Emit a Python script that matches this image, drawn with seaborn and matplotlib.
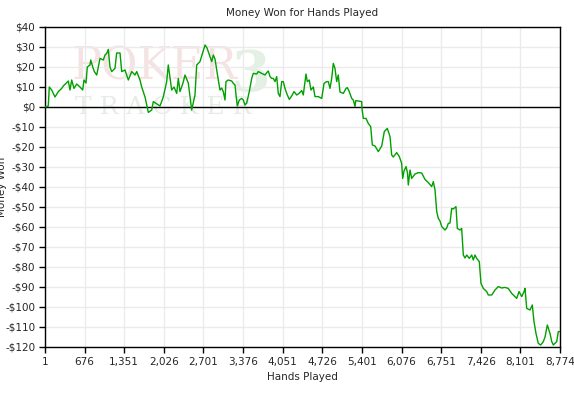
import numpy as np
import pandas as pd
import matplotlib
matplotlib.use("Agg")
import matplotlib.pyplot as plt
import seaborn as sns
from matplotlib.ticker import FuncFormatter

# --- data (hand number, cumulative money won in $) ---
hands = [1, 57, 74, 115, 171, 228, 285, 313, 398, 427, 456, 495, 541, 597, 643,
         665, 699, 722, 768, 780, 814, 841, 882, 938, 994, 1023, 1052, 1079, 1108,
         1137, 1193, 1222, 1279, 1308, 1364, 1420, 1478, 1534, 1563, 1619, 1648,
         1705, 1761, 1819, 1846, 1909, 1960, 2016, 2074, 2101, 2159, 2199, 2245,
         2272, 2301, 2352, 2386, 2442, 2500, 2556, 2585, 2641, 2727, 2761, 2841,
         2868, 2897, 2926, 2953, 2982, 3011, 3038, 3067, 3084, 3123, 3181, 3209,
         3238, 3255, 3277, 3311, 3352, 3379, 3408, 3437, 3481, 3522, 3549, 3607,
         3635, 3693, 3749, 3778, 3805, 3834, 3863, 3890, 3919, 3948, 3975, 4004,
         4033, 4060, 4089, 4129, 4163, 4203, 4243, 4289, 4328, 4374, 4401, 4447,
         4469, 4503, 4532, 4572, 4600, 4657, 4715, 4754, 4800, 4827, 4856, 4885,
         4912, 4941, 4970, 4997, 5026, 5083, 5129, 5151, 5180, 5226, 5253, 5282,
         5294, 5396, 5401, 5423, 5469, 5508, 5549, 5577, 5623, 5679, 5737, 5781,
         5832, 5878, 5907, 5934, 5992, 6037, 6077, 6094, 6117, 6151, 6176, 6190,
         6219, 6248, 6304, 6360, 6418, 6474, 6531, 6588, 6616, 6645, 6674, 6701,
         6730, 6759, 6815, 6844, 6871, 6900, 6929, 6956, 7002, 7025, 7071, 7099,
         7127, 7156, 7185, 7229, 7270, 7297, 7326, 7355, 7399, 7428, 7468, 7525,
         7553, 7611, 7667, 7723, 7781, 7837, 7893, 7951, 8007, 8036, 8076, 8122,
         8161, 8178, 8207, 8263, 8302, 8331, 8365, 8404, 8445, 8490, 8519, 8558,
         8604, 8633, 8660, 8718, 8745, 8774]
money = [0, 0.5, 10, 8.5, 5, 7.7, 9.3, 10.5, 13, 8.5, 13.5, 9.3, 11.5, 10, 8.5,
         13.5, 12, 20, 21, 23.5, 20, 17.7, 16, 24.3, 23.5, 26, 26.8, 28.8, 20,
         17.7, 19.3, 27, 27, 17.7, 18.5, 13.5, 17.7, 16, 17.7, 13.5, 10,
         5, -2.7, -1.5, 2.7, 1.5, 0.5, 5, 12.7, 21, 8.5, 10, 6.8,
         14.3, 7.7, 12, 16, 12, -1.5, 6, 21, 22.7, 31, 29.5, 22.7,
         26, 24, 18.5, 13.5, 8.5, 9.5, 7.7, 3.5, 12.7, 13.5, 13, 11.8,
         11, 6, 0.5, 3.5, 4.3, 3.5, 1, 2, 7.7, 14.3, 16.8, 16.5,
         17.7, 16.8, 16, 17.2, 18, 15.2, 14.3, 14.3, 12.7, 15.2, 6.8, 5.2,
         12.7, 12.7, 9.3, 6, 3.8, 5.5, 7.7, 6, 6.8, 8.2, 6, 16.5,
         12.7, 13.5, 8.5, 10, 5.2, 5.2, 4.3, 11.8, 12.7, 12.7, 9.3, 14.3,
         21.8, 19.3, 12.7, 16, 7.5, 6.8, 9.3, 9.7, 8, 4.3, 3.5, 0.2,
         3.2, 2.7, -0.7, -5.7, -5.7, -8.2, -9.8, -19, -19.5, -22.3, -19.5, -12.3,
         -10.7, -14.8, -24, -25, -22.8, -24.8, -28.2, -35.7, -32, -29.8, -33, -39,
         -31.5, -35.7, -33.5, -32.8, -33, -36.2, -37.8, -39.8, -37.3, -41.5, -52.3, -55.7,
         -57, -59.8, -61.5, -60.5, -58.2, -58, -50.7, -51, -49.8, -60.7, -61.5, -60.7,
         -74, -75.5, -74, -75.7, -74, -76.5, -74, -75.7, -77.3, -88.2, -90.7, -92.3,
         -94, -94, -91.5, -89.8, -90.5, -90.2, -90.7, -93.2, -94.8, -95.7, -92.3, -94.8,
         -92.3, -90.7, -100.7, -101.5, -99, -107.3, -113.2, -118.2, -119, -117.3, -115, -109,
         -113.2, -117.3, -119, -117.3, -112.3, -112.3]

x_ticks = [1, 676, 1351, 2026, 2701, 3376, 4051, 4726, 5401, 6076, 6751, 7426, 8101, 8774]
y_ticks = list(range(-120, 41, 10))

df = pd.DataFrame({"Hands Played": hands, "Money Won": money})

sns.set_style("white")
plt.rcParams["font.family"] = ["DejaVu Sans"]

fig = plt.figure(figsize=(5.74, 3.96), dpi=100)
ax = fig.add_axes([45 / 574, 1 - 347 / 396, 515 / 574, 320 / 396])

# faint watermark behind the data
ax.text(0.052, 0.875, "POKER", transform=ax.transAxes, fontsize=32,
        family="DejaVu Serif", color="#f5e3e3", va="center", ha="left", zorder=0)
ax.text(0.058, 0.75, "T R A C K E R", transform=ax.transAxes, fontsize=18,
        family="DejaVu Serif", color="#e7ece7", va="center", ha="left", zorder=0)
ax.text(0.398, 0.85, "3", transform=ax.transAxes, fontsize=40, fontweight="bold",
        family="DejaVu Serif", color="#e4f0e4", va="center", ha="center", zorder=0)

ax.axhline(0, color="black", lw=1, zorder=2)
sns.lineplot(data=df, x="Hands Played", y="Money Won", ax=ax, color="#00a000",
             lw=1, zorder=3)

ax.set_xlim(1, 8774)
ax.set_ylim(-120, 40)
ax.set_xticks(x_ticks)
ax.set_yticks(y_ticks)
ax.xaxis.set_major_formatter(FuncFormatter(lambda v, p: f"{int(v):,}"))
ax.yaxis.set_major_formatter(FuncFormatter(
    lambda v, p: f"-${abs(int(v))}" if v < 0 else f"${int(v)}"))
ax.tick_params(axis="both", direction="out", length=4, width=1, color="black",
               labelsize=7.5, pad=3, bottom=True, left=True)
ax.grid(True, color="#ebebeb", lw=1, zorder=1)
ax.set_axisbelow(True)
for s in ax.spines.values():
    s.set_color("black")
    s.set_linewidth(1)

ax.set_title("Money Won for Hands Played", fontsize=7.5, pad=8)
ax.set_xlabel("Hands Played", fontsize=7.5, labelpad=4)
ax.set_ylabel("")
# the reference shows this label clipped at the left edge
fig.text(7 / 574, 1 - 187 / 396, "Money Won", rotation=90, ha="right",
         va="center", fontsize=7.5)

fig.savefig("out.png", dpi=100)
